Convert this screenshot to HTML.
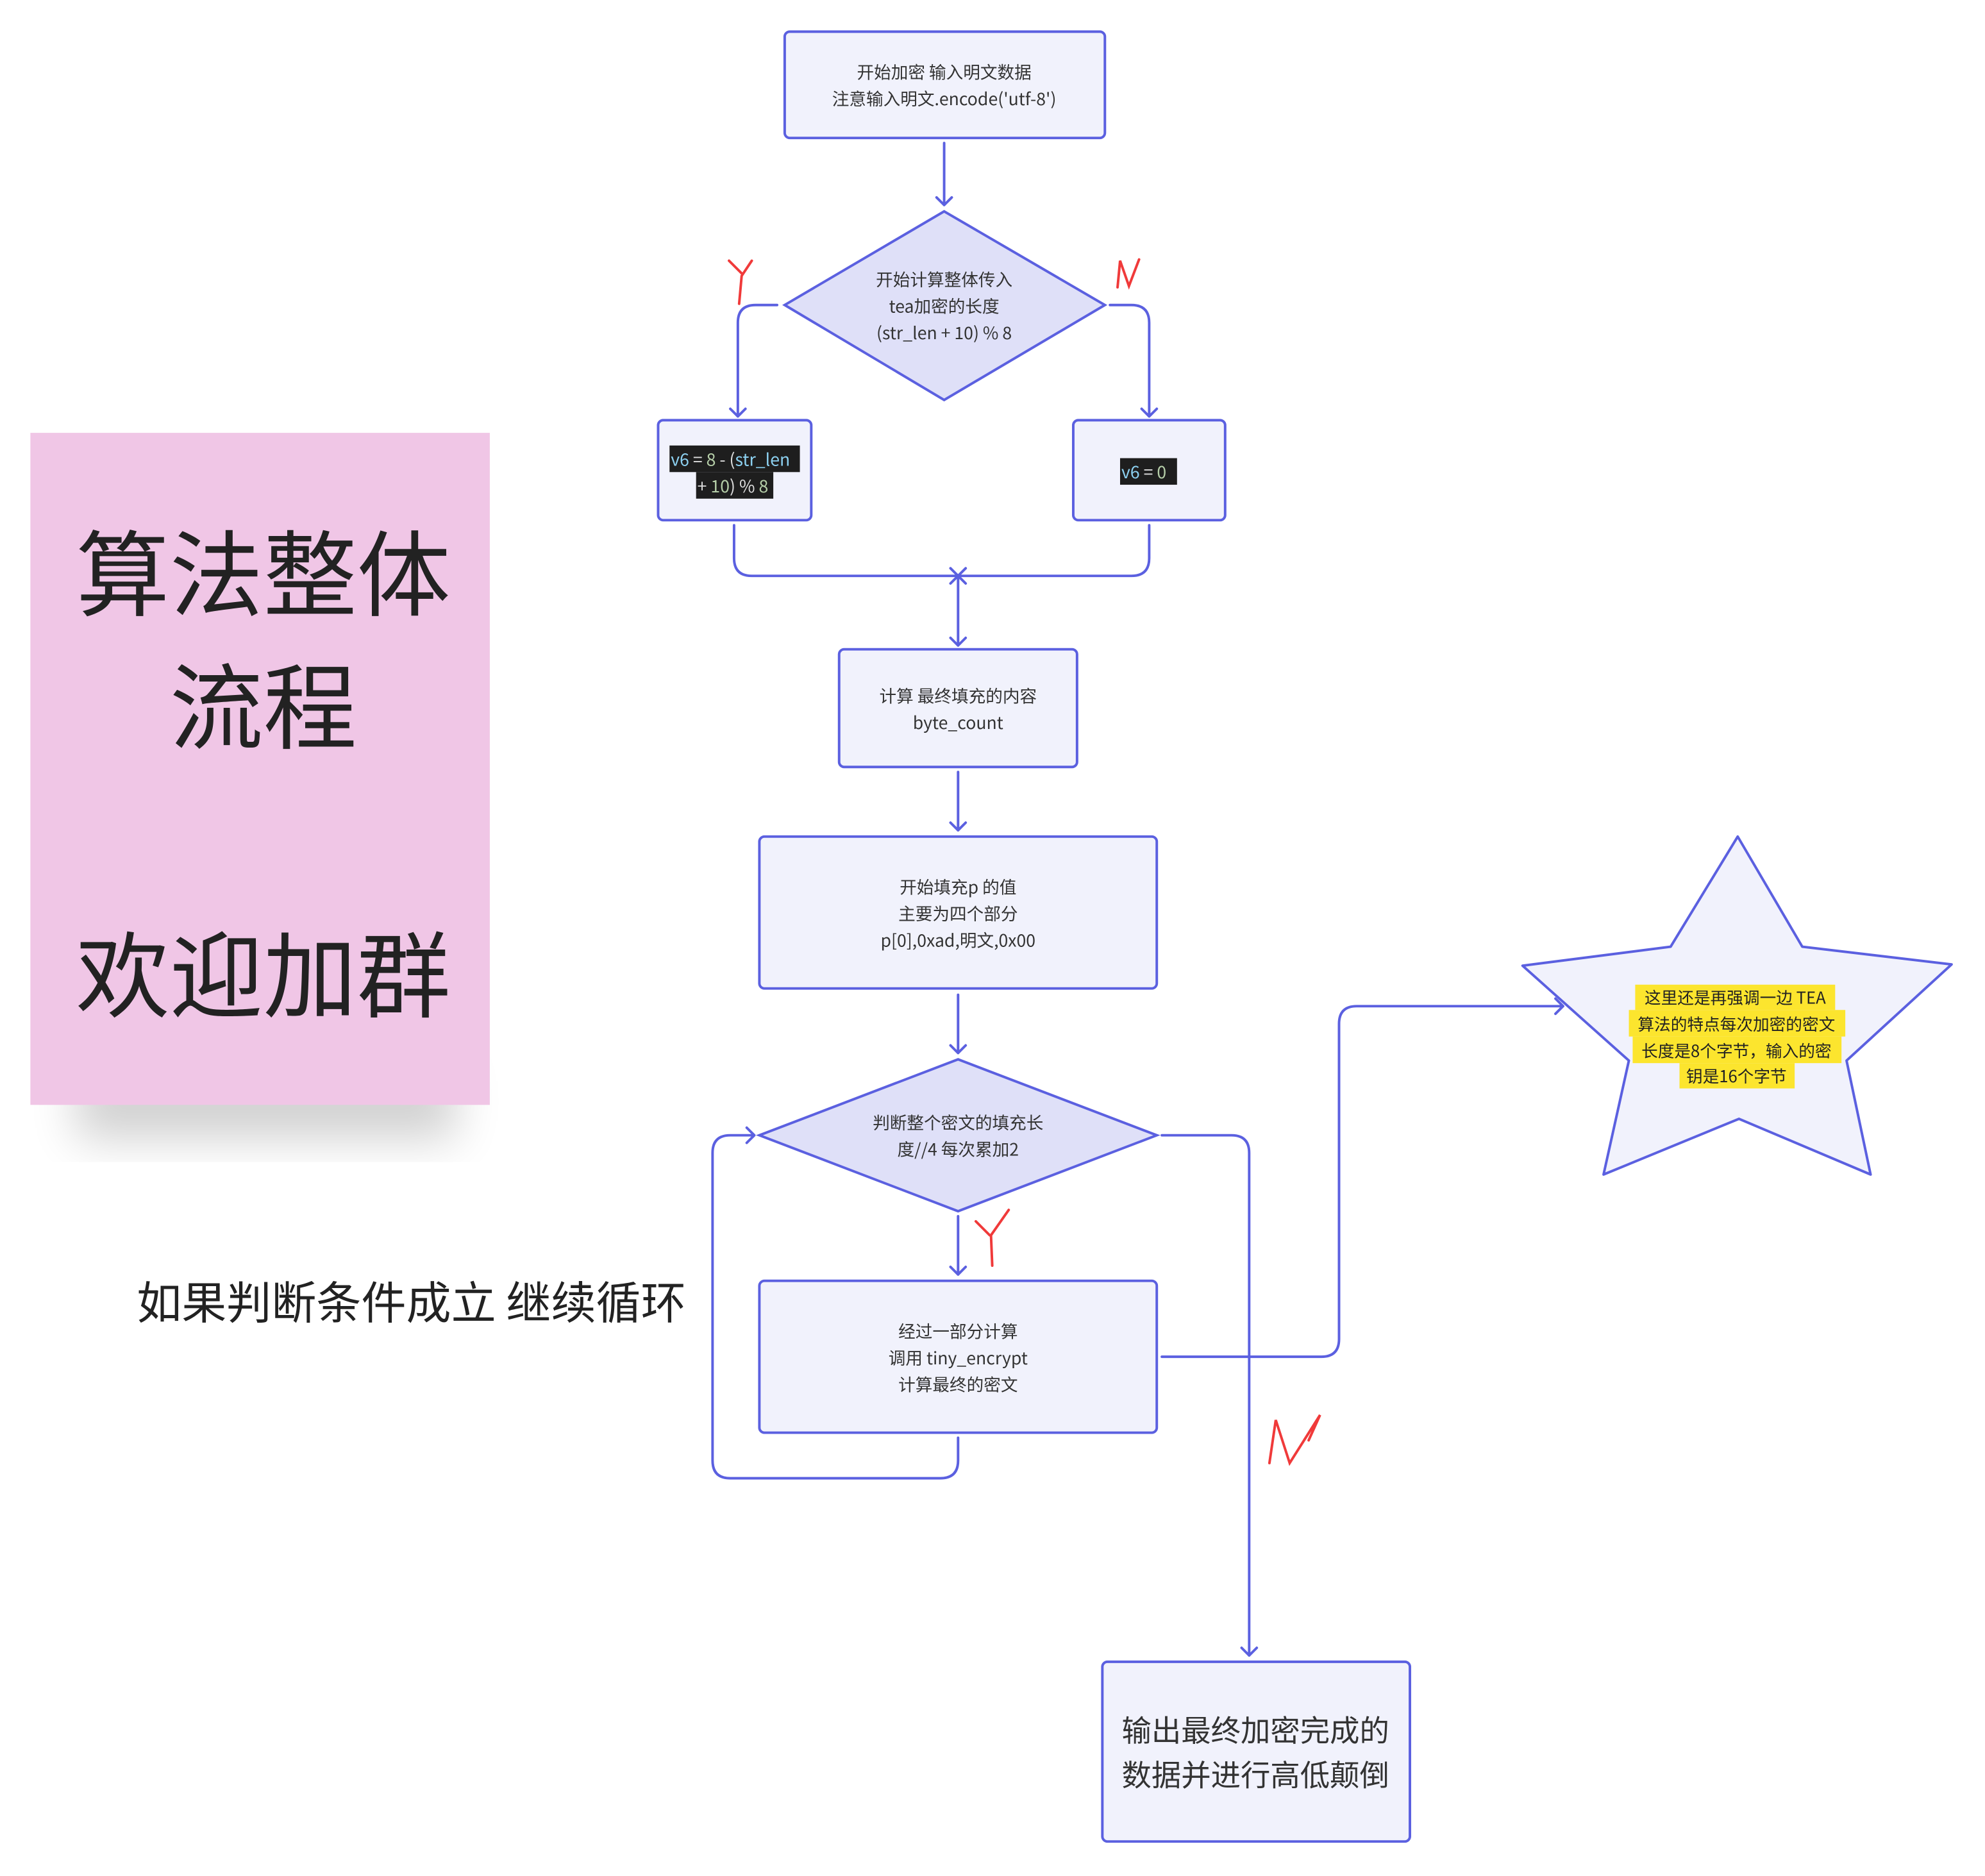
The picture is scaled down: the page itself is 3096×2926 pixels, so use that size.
<!DOCTYPE html>
<html><head><meta charset="utf-8"><style>
html,body{margin:0;padding:0;background:#fff;}
svg{display:block;}
text{font-family:"Noto Sans CJK SC","Liberation Sans",sans-serif;fill:#333;}
</style></head><body>
<svg width="3096" height="2926" viewBox="0 0 1548 1463" xmlns="http://www.w3.org/2000/svg">
<defs>
<filter id="sh" x="-30%" y="-30%" width="160%" height="160%"><feGaussianBlur stdDeviation="18"/></filter>
</defs>
<g transform="scale(0.987)">
<!-- pink note -->
<rect x="60" y="840" width="300" height="60" fill="#000" opacity="0.18" filter="url(#sh)"/>
<rect x="24" y="342" width="363" height="531" fill="#f0c6e6"/>
<g font-size="74" text-anchor="middle">
<text x="208" y="481" style="fill:#222">算法整体</text>
<text x="208" y="586" style="fill:#222">流程</text>
<text x="208" y="798" style="fill:#222">欢迎加群</text>
</g>
<text x="108" y="1042" font-size="35.5" style="fill:#222">如果判断条件成立 继续循环</text>

<g stroke="#5b60e0" stroke-width="2" fill="#f1f2fc">
<rect x="620" y="25" width="253" height="84" rx="4"/>
<polygon points="746,167 873,241 746,316 620,241" fill="#dfe0f8"/>
<rect x="520" y="332" width="121" height="79" rx="4"/>
<rect x="848" y="332" width="120" height="79" rx="4"/>
<rect x="663" y="513" width="188" height="93" rx="4"/>
<rect x="600" y="661" width="314" height="120" rx="4"/>
<polygon points="757,837 914,897 757,957 600,897" fill="#dfe0f8"/>
<rect x="600" y="1012" width="314" height="120" rx="4"/>
<rect x="871" y="1313" width="243" height="142" rx="4"/>
<polygon points="1373,661 1424,748 1542,762 1459,838 1478,928 1374,884 1267,928 1287,838 1203,763 1320,748" stroke-linejoin="round"/>
</g>

<g stroke="#5b60e0" stroke-width="2" fill="none" stroke-linecap="round" stroke-linejoin="round">
<path d="M746 113 V162 M740 156 L746 162 L752 156"/>
<path d="M614 241 H597 Q583 241 583 255 V329 M577 323 L583 329 L589 323"/>
<path d="M877 241 H894 Q908 241 908 255 V329 M902 323 L908 329 L914 323"/>
<path d="M580 415 V441 Q580 455 594 455 H894 Q908 455 908 441 V415"/>
<path d="M751 461 L757 455 L763 461 M751 449 L757 455 L763 449"/>
<path d="M757 455 V510 M751 504 L757 510 L763 504"/>
<path d="M757 610 V656 M751 650 L757 656 L763 650"/>
<path d="M757 786 V832 M751 826 L757 832 L763 826"/>
<path d="M757 961 V1007 M751 1001 L757 1007 L763 1001"/>
<path d="M757 1136 V1154 Q757 1168 743 1168 H577 Q563 1168 563 1154 V911 Q563 897 577 897 H596 M590 891 L596 897 L590 903"/>
<path d="M918 897 H973 Q987 897 987 911 V1308 M981 1302 L987 1308 L993 1302"/>
<path d="M918 1072 H1044 Q1058 1072 1058 1058 V809 Q1058 795 1072 795 H1235 M1229 789 L1235 795 L1229 801"/>
</g>

<!-- red marks -->
<g stroke="#f03a3a" stroke-width="2" fill="none" stroke-linecap="round">
<path d="M576 206 L586 216 M594 206 L586 218 L584 240"/>
<path d="M883 227 L885 206 L892 226 L900 205"/>
<path d="M771 965 L782 976 M797 956 L783 976 L784 1000"/>
<path d="M1003 1156 L1008 1122 L1019 1156 L1043 1118 L1034 1138"/>
</g>

<g font-size="13.5" text-anchor="middle">
<text x="746" y="62">开始加密 输入明文数据</text>
<text x="746" y="83">注意输入明文.encode('utf-8')</text>
<text x="746" y="226">开始计算整体传入</text>
<text x="746" y="247">tea加密的长度</text>
<text x="746" y="268">(str_len + 10) % 8</text>
<text x="757" y="555">计算 最终填充的内容</text>
<text x="757" y="576">byte_count</text>
<text x="757" y="706">开始填充p 的值</text>
<text x="757" y="727">主要为四个部分</text>
<text x="757" y="748">p[0],0xad,明文,0x00</text>
<text x="757" y="892">判断整个密文的填充长</text>
<text x="757" y="913">度//4  每次累加2</text>
<text x="757" y="1057">经过一部分计算</text>
<text x="757" y="1078">调用 tiny_encrypt</text>
<text x="757" y="1099">计算最终的密文</text>
</g>

<!-- code boxes -->
<rect x="529" y="352" width="103" height="21" fill="#1e1e1e"/>
<rect x="550" y="373" width="61" height="21" fill="#1e1e1e"/>
<text x="530" y="368" font-size="13.5"><tspan style="fill:#8cd0f0">v6</tspan><tspan style="fill:#ddd"> = </tspan><tspan style="fill:#b5cea8">8</tspan><tspan style="fill:#ddd"> - (</tspan><tspan style="fill:#8cd0f0">str_len</tspan></text>
<text x="551" y="389" font-size="13.5"><tspan style="fill:#ddd">+ </tspan><tspan style="fill:#b5cea8">10</tspan><tspan style="fill:#ddd">) % </tspan><tspan style="fill:#b5cea8">8</tspan></text>
<rect x="885" y="362" width="45" height="21" fill="#1e1e1e"/>
<text x="886" y="378" font-size="13.5"><tspan style="fill:#8cd0f0">v6</tspan><tspan style="fill:#ddd"> = </tspan><tspan style="fill:#b5cea8">0</tspan></text>

<!-- star text -->
<g fill="#fce52e">
<rect x="1292" y="778" width="158" height="20"/>
<rect x="1287" y="798" width="171" height="21"/>
<rect x="1290" y="819" width="165" height="21"/>
<rect x="1327" y="840" width="91" height="20"/>
</g>
<g font-size="13" text-anchor="middle">
<text x="1371" y="793" style="fill:#222">这里还是再强调一边 TEA</text>
<text x="1372" y="814" style="fill:#222">算法的特点每次加密的密文</text>
<text x="1372" y="835" style="fill:#222">长度是8个字节，输入的密</text>
<text x="1372" y="855" style="fill:#222">钥是16个字节</text>
</g>

<g font-size="23.5" text-anchor="middle">
<text x="992" y="1376">输出最终加密完成的</text>
<text x="992" y="1411">数据并进行高低颠倒</text>
</g>
</g>
</svg>
</body></html>
